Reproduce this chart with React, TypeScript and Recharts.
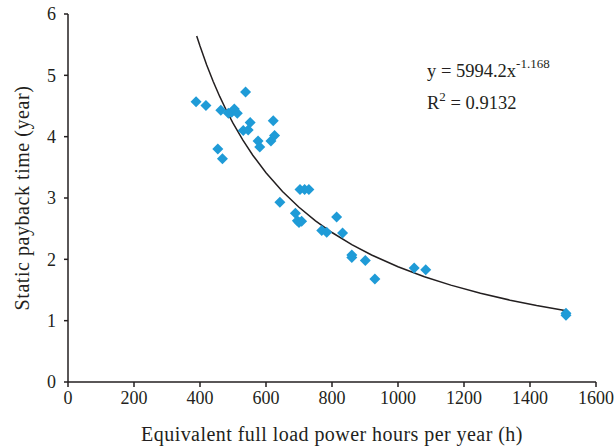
import React from "react";
import { ScatterChart, Scatter, XAxis, YAxis, Customized } from "recharts";

const hours = [388, 418, 454, 463, 468, 486, 496, 504, 513, 531, 538, 546, 552, 576, 581, 615, 622, 626, 642, 689, 695, 700, 703, 708, 717, 730, 769, 784, 814, 832, 860, 860, 901, 930, 1049, 1084, 1509, 1509];
const payback = [4.57, 4.51, 3.80, 4.43, 3.64, 4.38, 4.40, 4.45, 4.38, 4.10, 4.73, 4.11, 4.23, 3.93, 3.83, 3.93, 4.26, 4.02, 2.93, 2.75, 2.63, 2.60, 3.14, 2.62, 3.14, 3.14, 2.47, 2.44, 2.69, 2.43, 2.07, 2.03, 1.98, 1.68, 1.86, 1.83, 1.12, 1.09];

const xTicks = [0, 200, 400, 600, 800, 1000, 1200, 1400, 1600];
const yTicks = [0, 1, 2, 3, 4, 5, 6];

// Power trendline stated on the chart: y = 5994.2 x^-1.168
const trendCoef = 5994.2;
const trendExp = -1.168;
const trendXs = [390, 400, 420, 440, 460, 480, 500, 530, 560, 600, 650, 700, 750, 800, 860, 920, 1000, 1080, 1160, 1250, 1340, 1420, 1510];

const points = hours.map((h, i) => ({ x: h, y: payback[i] }));
const trend = trendXs.map((x) => ({ x, y: trendCoef * Math.pow(x, trendExp) }));

const FONT = "'Liberation Serif', 'Times New Roman', serif";
const INK = "#231f20";
const BLUE = "#1f9bd7";

const Diamond = (props: any) => {
  const { cx, cy } = props;
  if (cx == null || cy == null) return null;
  const r = 5.5;
  return (
    <polygon
      points={`${cx},${cy - r} ${cx + r},${cy} ${cx},${cy + r} ${cx - r},${cy}`}
      fill={BLUE}
    />
  );
};

const Annotation = () => (
  <g fontFamily={FONT} fill={INK} fontSize={18.5}>
    <text x={427} y={77}>
      y = 5994.2x
      <tspan dy={-9} fontSize={13}>-1.168</tspan>
    </text>
    <text x={427} y={109}>
      R
      <tspan dy={-8} fontSize={13}>2</tspan>
      <tspan dy={8}> = 0.9132</tspan>
    </text>
  </g>
);

export default function App() {
  return (
    <div style={{ position: "absolute", left: 0, top: 0, background: "#fff" }}>
      <ScatterChart
        width={615}
        height={447}
        margin={{ top: 14, right: 19, left: 0, bottom: 0 }}
      >
        <XAxis
          type="number"
          dataKey="x"
          domain={[0, 1600]}
          ticks={xTicks}
          interval={0}
          height={65}
          stroke={INK}
          strokeWidth={1.5}
          tickSize={5}
          tickMargin={4}
          tick={{ fill: INK, fontSize: 18, fontFamily: FONT }}
          label={{
            value: "Equivalent full load power hours per year (h)",
            position: "insideBottom",
            offset: 6,
            fill: INK,
            fontSize: 20,
            fontFamily: FONT,
            letterSpacing: 0.45,
          }}
          allowDataOverflow
        />
        <YAxis
          type="number"
          dataKey="y"
          domain={[0, 6]}
          ticks={yTicks}
          interval={0}
          width={68}
          stroke={INK}
          strokeWidth={1.5}
          tickSize={4}
          tickMargin={8}
          tick={{ fill: INK, fontSize: 18, fontFamily: FONT }}
          label={{
            value: "Static payback time (year)",
            angle: -90,
            position: "insideLeft",
            offset: 22,
            style: { textAnchor: "middle" },
            fill: INK,
            fontSize: 20,
            fontFamily: FONT,
            letterSpacing: 0.55,
          }}
          allowDataOverflow
        />
        <Scatter
          data={trend}
          line={{ stroke: INK, strokeWidth: 1.5 }}
          shape={() => null}
          isAnimationActive={false}
        />
        <Scatter data={points} shape={<Diamond />} isAnimationActive={false} />
        <Customized component={Annotation} />
      </ScatterChart>
    </div>
  );
}
